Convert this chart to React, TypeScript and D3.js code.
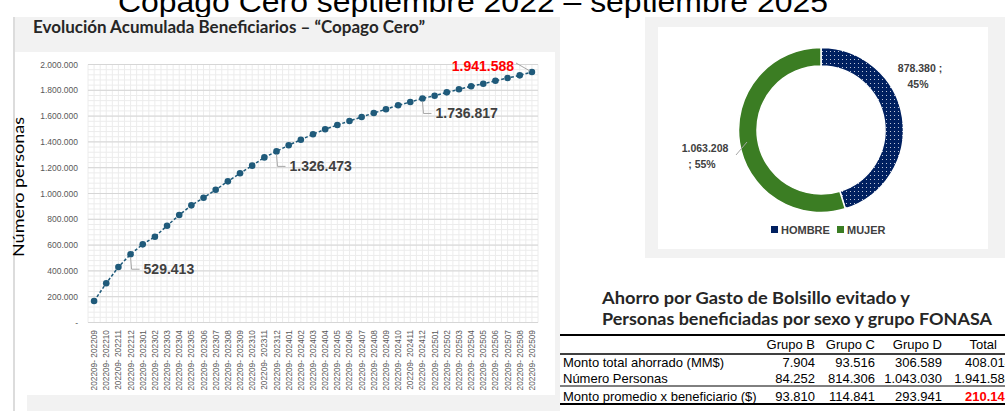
import React from "react";
import * as d3 from "d3";

const periods = [
  "202209","202210","202211","202212","202301","202302","202303","202304","202305","202306",
  "202307","202308","202309","202310","202311","202312","202401","202402","202403","202404",
  "202405","202406","202407","202408","202409","202410","202411","202412","202501","202502",
  "202503","202504","202505","202506","202507","202508","202509",
];
const cumulative = [
  167000, 304000, 430000, 529413, 606000, 665000, 750000, 833000, 908000, 967000,
  1029000, 1094000, 1157000, 1216000, 1280000, 1326473, 1374000, 1417000, 1459000, 1498000,
  1531000, 1562000, 1593000, 1624000, 1653000, 1684000, 1709000, 1736817, 1758000, 1784000,
  1808000, 1831000, 1851000, 1874000, 1895000, 1916000, 1941588,
];
const annotated = [3, 15, 27];
const yTicks = [0, 200000, 400000, 600000, 800000, 1000000, 1200000, 1400000, 1600000, 1800000, 2000000];

const sexLabels = ["HOMBRE", "MUJER"];
const sexValues = [878380, 1063208];
const sexPct = ["45%", "55%"];

const tableHeaders = ["Grupo B", "Grupo C", "Grupo D", "Total"];
const rowLabels = ["Monto total ahorrado (MM$)", "Número Personas", "Monto promedio x beneficiario ($)"];
const rowMonto = ["7.904", "93.516", "306.589", "408.014"];
const rowPersonas = ["84.252", "814.306", "1.043.030", "1.941.588"];
const rowPromedio = ["93.810", "114.841", "293.941", "210.145"];

const loc = d3.formatLocale({ decimal: ",", thousands: ".", grouping: [3], currency: ["$", ""] });
const fmt = loc.format(",");

const SANS = "'Liberation Sans', Arial, sans-serif";
const CAL = "Lato, 'Open Sans', sans-serif";

export default function App() {
  const x = d3.scalePoint<string>().domain(periods).range([88, 538]).padding(0.5);
  const step = x.step();
  const y = d3.scaleLinear().domain([0, 2000000]).range([322.5, 64.5]);
  const minorY = d3.range(0, 2000001, 40000);
  const minorX = d3.range(0, periods.length * 2 + 1).map((k) => 88 + (k * step) / 2);
  const line = d3
    .line<number>()
    .x((_, i) => x(periods[i]) as number)
    .y((d) => y(d));

  const pie = d3.pie<number>().sort(null).value((d) => d)(sexValues);
  const arc = d3.arc<d3.PieArcDatum<number>>().innerRadius(64).outerRadius(82.5);
  const cx = 821, cy = 130;
  const sexColors = ["url(#dots)", "#3b7d23"];
  const legendColors = ["#002060", "#3b7d23"];

  const colRight = [815, 875, 942, 1012];
  const tableRows = [rowMonto, rowPersonas, rowPromedio];
  const rowY = [362, 378, 396];

  const last = periods.length - 1;

  return (
    <svg width={1005} height={411} style={{ position: "absolute", left: 0, top: 0 }} fontFamily={SANS}>
      <defs>
        <pattern id="dots" width="4" height="4" patternUnits="userSpaceOnUse">
          <rect width="4" height="4" fill="#002060" />
          <rect x="1" y="1" width="1" height="1" fill="#ffffff" opacity="0.75" />
        </pattern>
      </defs>
      <rect width={1005} height={411} fill="#ffffff" />
      {/* Top big title (cut) */}
      <text x={118} y={12} fontSize={30} fill="#000" textLength={710} lengthAdjust="spacingAndGlyphs">
        Copago Cero septiembre 2022 – septiembre 2025
      </text>

      {/* Left panel */}
      <line x1={14} x2={14} y1={17} y2={411} stroke="#d0d0d0" strokeWidth={1.5} />
      <rect x={15} y={17} width={545} height={35} fill="#f2f2f2" />
      <rect x={27} y={395} width={528} height={16} fill="#f2f2f2" />
      <rect x={555} y={17} width={5} height={394} fill="#f2f2f2" />
      <text x={33} y={33} fontFamily={CAL} fontWeight={700} fontSize={16.5} fill="#262626" textLength={392} lengthAdjust="spacingAndGlyphs">
        Evolución Acumulada Beneficiarios – “Copago Cero”
      </text>
      <text transform="translate(24,187) rotate(-90)" textAnchor="middle" fontFamily={CAL} fontSize={16} fill="#000" textLength={140} lengthAdjust="spacingAndGlyphs">
        Número personas
      </text>

      {/* grid */}
      {minorY.map((v) => (
        <line key={"my" + v} x1={88} x2={538} y1={y(v)} y2={y(v)} stroke="#ececec" strokeWidth={1} />
      ))}
      {minorX.map((xx, i) => (
        <line key={"mx" + i} x1={xx} x2={xx} y1={64.5} y2={322.5} stroke="#ececec" strokeWidth={1} />
      ))}
      {yTicks.map((v) => (
        <line key={"gy" + v} x1={88} x2={538} y1={y(v)} y2={y(v)} stroke="#d6d6d6" strokeWidth={1} />
      ))}
      {yTicks.map((v) => (
        <text key={"ty" + v} x={78} y={y(v) + 3} textAnchor="end" fontSize={8.5} fill="#595959">
          {v === 0 ? "-" : fmt(v)}
        </text>
      ))}
      {periods.map((p) => (
        <text key={"tx" + p} transform={`translate(${(x(p) as number) + 3},330) rotate(-90)`} textAnchor="end" fontSize={8.3} fill="#595959">
          {`202209- ${p}`}
        </text>
      ))}

      {/* series */}
      <path d={line(cumulative) || ""} fill="none" stroke="#1f5a7a" strokeWidth={1.5} strokeDasharray="3,2" />
      {cumulative.map((v, i) => (
        <circle key={"pt" + i} cx={x(periods[i]) as number} cy={y(v)} r={3.3} fill="#1f5a7a" />
      ))}

      {/* annotations */}
      {annotated.map((i) => {
        const px = x(periods[i]) as number;
        const py = y(cumulative[i]);
        return (
          <g key={"an" + i}>
            <polyline points={`${px},${py + 3} ${px + 1},${py + 15} ${px + 9},${py + 15}`} fill="none" stroke="#a6a6a6" strokeWidth={1} />
            <text x={px + 13} y={py + 20} fontSize={14} fontWeight={700} fill="#404040">
              {fmt(cumulative[i])}
            </text>
          </g>
        );
      })}
      <line x1={516} y1={63} x2={530} y2={y(cumulative[last]) - 1} stroke="#a6a6a6" strokeWidth={1} />
      <text x={514} y={71} textAnchor="end" fontSize={14} fontWeight={700} fill="#ff0000">
        {fmt(cumulative[last])}
      </text>

      {/* Donut panel */}
      <rect x={645} y={17} width={360} height={241} fill="#f2f2f2" />
      <rect x={658} y={27} width={330} height={222} fill="#ffffff" />
      <g transform={`translate(${cx},${cy})`}>
        {pie.map((s, i) => (
          <path key={"sl" + i} d={arc(s) || ""} fill={sexColors[i]} stroke="#ffffff" strokeWidth={1.5} />
        ))}
      </g>
      <text x={920} y={72} textAnchor="middle" fontSize={10.5} fontWeight={700} fill="#404040">
        {fmt(sexValues[0]) + " ;"}
      </text>
      <text x={918} y={88} textAnchor="middle" fontSize={10.5} fontWeight={700} fill="#404040">
        {sexPct[0]}
      </text>
      <line x1={736} y1={155} x2={747} y2={142} stroke="#a6a6a6" strokeWidth={1} />
      <text x={705} y={152} textAnchor="middle" fontSize={10.5} fontWeight={700} fill="#404040">
        {fmt(sexValues[1])}
      </text>
      <text x={702} y={168} textAnchor="middle" fontSize={10.5} fontWeight={700} fill="#404040">
        {"; " + sexPct[1]}
      </text>
      {sexLabels.map((s, i) => {
        const lx = i === 0 ? 771 : 837;
        return (
          <g key={"lg" + s}>
            <rect x={lx} y={226} width={7} height={7} fill={legendColors[i]} />
            <text x={lx + 10} y={234} fontSize={11} fontWeight={700} fill="#404040">
              {s}
            </text>
          </g>
        );
      })}

      {/* Table */}
      <text x={602} y={304} fontFamily={CAL} fontWeight={700} fontSize={17.5} fill="#262626" textLength={308} lengthAdjust="spacingAndGlyphs">
        Ahorro por Gasto de Bolsillo evitado y
      </text>
      <text x={602} y={325} fontFamily={CAL} fontWeight={700} fontSize={17.5} fill="#262626" textLength={390} lengthAdjust="spacingAndGlyphs">
        Personas beneficiadas por sexo y grupo FONASA
      </text>
      <line x1={560} x2={1005} y1={335} y2={335} stroke="#000" strokeWidth={1.8} />
      <line x1={560} x2={1005} y1={354} y2={354} stroke="#000" strokeWidth={1.5} />
      <line x1={560} x2={1005} y1={386} y2={386} stroke="#000" strokeWidth={1} />
      <line x1={560} x2={1005} y1={404} y2={404} stroke="#000" strokeWidth={1.8} />
      {tableHeaders.map((h, i) => (
        <text key={"th" + h} x={i === 3 ? 997 : colRight[i]} y={349} textAnchor="end" fontSize={13} fill="#000">
          {h}
        </text>
      ))}
      {rowLabels.map((r, ri) => (
        <g key={"tr" + ri}>
          <text x={563} y={rowY[ri] + 4.5} fontSize={13} fill="#000">
            {r}
          </text>
          {tableRows[ri].map((v, ci) => {
            const red = ri === 2 && ci === 3;
            return (
              <text key={"td" + ci} x={colRight[ci]} y={rowY[ri] + 4.5} textAnchor="end" fontSize={13} fill={red ? "#ff0000" : "#000"} fontWeight={red ? 700 : 400}>
                {v}
              </text>
            );
          })}
        </g>
      ))}
    </svg>
  );
}
